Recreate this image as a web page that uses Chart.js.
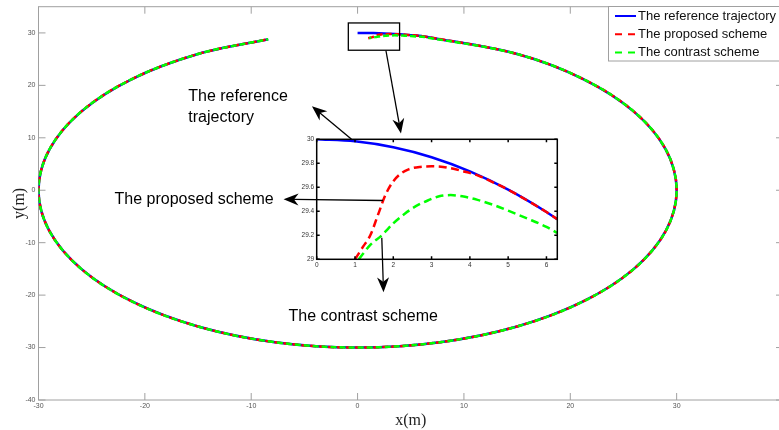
<!DOCTYPE html>
<html>
<head>
<meta charset="utf-8">
<script src="https://cdn.jsdelivr.net/npm/chart.js@4.4.0/dist/chart.umd.min.js"></script>
<style>
  html, body { margin: 0; padding: 0; background: #fff; overflow: hidden; width: 779px; height: 430px; }
  #wrap { position: relative; width: 779px; height: 430px; }
  #mainChart, #zoomChart { position: absolute; left: 0; top: 0; }
</style>
</head>
<body>
<div id="wrap">
  <canvas id="mainChart" width="790" height="430"></canvas>
  <canvas id="zoomChart" width="779" height="430"></canvas>
</div>
<script>
// start of the run
const refHeadX = [0, 1, 2, 3, 4, 5, 6, 6.28];
const refHeadY = [30, 29.983, 29.933, 29.85, 29.732, 29.58, 29.394, 29.335];

const propHeadX = [1.0, 1.2, 1.4, 1.6, 1.8, 2.0, 2.2, 2.4, 2.7, 3.0, 3.3, 3.6, 3.9, 4.2, 4.5, 5.0, 5.5, 6.0, 6.28];
const propHeadY = [29.0, 29.1, 29.2, 29.37, 29.54, 29.65, 29.715, 29.75, 29.77, 29.775, 29.77, 29.752, 29.727, 29.70, 29.657, 29.58, 29.49, 29.394, 29.335];

const contHeadX = [1.1, 1.4, 1.7, 2.0, 2.3, 2.6, 2.9, 3.2, 3.5, 3.8, 4.2, 4.6, 5.0, 5.5, 6.0, 6.28];
const contHeadY = [29.0, 29.12, 29.2, 29.3, 29.38, 29.445, 29.49, 29.525, 29.535, 29.525, 29.495, 29.455, 29.405, 29.34, 29.27, 29.22];

// rest of the loop, where all three curves coincide
const trackX = [15, 21.21, 25.98, 28.98, 30, 28.98, 25.98, 21.21, 15, 7.76, 0, -7.76, -15, -21.21, -25.98, -28.98, -30, -28.98, -25.98, -21.21, -15, -8.4];
const trackY = [25.98, 21.21, 15, 7.76, 0, -7.76, -15, -21.21, -25.98, -28.98, -30, -28.98, -25.98, -21.21, -15, -7.76, 0, 7.76, 15, 21.21, 25.98, 28.8];

const mainXTicks = [-30, -20, -10, 0, 10, 20, 30, 40];
const mainYTicks = [-40, -30, -20, -10, 0, 10, 20, 30];
const zoomXTicks = [0, 1, 2, 3, 4, 5, 6];
const zoomYTicks = [29, 29.2, 29.4, 29.6, 29.8, 30];

const seriesNames = ['The reference trajectory', 'The proposed scheme', 'The contrast scheme'];

function pts(xs, ys) { return xs.map((x, i) => ({ x: x, y: ys[i] })); }

// annotations (main-axes coordinates unless marked 'zoom')
const notes = [
  { text: 'The reference', x: -15.92, y: 17.94 },
  { text: 'trajectory', x: -15.92, y: 13.93 },
  { text: 'The proposed scheme', x: -22.85, y: -1.81 },
  { text: 'The contrast scheme', x: -6.49, y: -24.05 }
];
const arrows = [
  { from: ['zoom', 0.91, 30.0], to: ['main', -4.29, 16.03] },
  { from: ['main', 2.67, 26.6], to: ['main', 4.08, 10.82] },
  { from: ['zoom', 1.73, 29.49], to: ['main', -6.96, -1.72] },
  { from: ['zoom', 1.70, 29.18], to: ['main', 2.44, -19.47] }
];
const zoomBox = { x0: -0.87, x1: 3.95, y0: 26.7, y1: 31.9 };

function fmt(v) { return String(Math.round(v * 10) / 10); }

function drawFrame(chart, o) {
  const { ctx, chartArea: a, scales: { x, y } } = chart;
  ctx.save();
  ctx.strokeStyle = o.color;
  ctx.lineWidth = o.width;
  ctx.strokeRect(a.left, a.top, a.right - a.left, a.bottom - a.top);
  ctx.beginPath();
  o.xTicks.forEach(v => {
    const px = x.getPixelForValue(v);
    ctx.moveTo(px, a.bottom); ctx.lineTo(px, a.bottom - o.tick);
    ctx.moveTo(px, a.top); ctx.lineTo(px, a.top + o.tick);
  });
  o.yTicks.forEach(v => {
    const py = y.getPixelForValue(v);
    ctx.moveTo(a.left, py); ctx.lineTo(a.left + o.tick, py);
    ctx.moveTo(a.right, py); ctx.lineTo(a.right - o.tick, py);
  });
  ctx.stroke();
  ctx.fillStyle = o.labelColor;
  ctx.font = o.font;
  ctx.textAlign = 'center';
  ctx.textBaseline = 'top';
  o.xTicks.forEach(v => ctx.fillText(fmt(v), x.getPixelForValue(v), a.bottom + o.pad));
  ctx.textAlign = 'right';
  ctx.textBaseline = 'middle';
  o.yTicks.forEach(v => ctx.fillText(fmt(v), a.left - o.pad, y.getPixelForValue(v)));
  ctx.restore();
}

function arrow(ctx, x1, y1, x2, y2) {
  const ang = Math.atan2(y2 - y1, x2 - x1);
  const c = Math.cos(ang), s = Math.sin(ang);
  const L = 15, W = 6, N = 10.5;
  const bx = x2 - c * N, by = y2 - s * N;
  ctx.beginPath();
  ctx.moveTo(x1, y1);
  ctx.lineTo(bx, by);
  ctx.stroke();
  ctx.beginPath();
  ctx.moveTo(x2, y2);
  ctx.lineTo(x2 - c * L - s * W, y2 - s * L + c * W);
  ctx.lineTo(bx, by);
  ctx.lineTo(x2 - c * L + s * W, y2 - s * L - c * W);
  ctx.closePath();
  ctx.fill();
}

const flatScale = (min, max, step) => ({
  type: 'linear', min: min, max: max,
  ticks: { display: false, stepSize: step, includeBounds: false },
  grid: { display: false, drawTicks: false },
  border: { display: false }
});

const mainDecor = {
  id: 'mainDecor',
  beforeDatasetsDraw(chart) {
    drawFrame(chart, {
      color: '#a0a0a0', width: 1, tick: 7, pad: 3,
      labelColor: '#555', font: '7px "Liberation Sans", Arial, sans-serif',
      xTicks: mainXTicks, yTicks: mainYTicks
    });
  },
  afterDatasetsDraw(chart) {
    const { ctx, chartArea: a, scales: { x, y } } = chart;
    ctx.save();
    // zoom marker box
    ctx.strokeStyle = '#000';
    ctx.lineWidth = 1.3;
    const bx0 = x.getPixelForValue(zoomBox.x0), bx1 = x.getPixelForValue(zoomBox.x1);
    const by0 = y.getPixelForValue(zoomBox.y1), by1 = y.getPixelForValue(zoomBox.y0);
    ctx.strokeRect(bx0, by0, bx1 - bx0, by1 - by0);

    // legend
    ctx.fillStyle = '#fff';
    ctx.fillRect(608.5, 6.5, 185, 54.5);
    ctx.strokeStyle = '#a0a0a0';
    ctx.lineWidth = 1;
    ctx.strokeRect(608.5, 6.5, 185, 54.5);
    ctx.font = '13px "Liberation Sans", Arial, sans-serif';
    ctx.textBaseline = 'middle';
    ctx.textAlign = 'left';
    chart.data.datasets.forEach((ds, i) => {
      const ly = 16 + i * 18.2;
      ctx.strokeStyle = ds.borderColor;
      ctx.lineWidth = 2;
      ctx.setLineDash(i === 0 ? [] : [7, 6]);
      ctx.beginPath();
      ctx.moveTo(615, ly);
      ctx.lineTo(636, ly);
      ctx.stroke();
      ctx.setLineDash([]);
      ctx.fillStyle = '#111';
      ctx.fillText(ds.label, 638, ly + 0.5);
    });

    // axis titles
    ctx.fillStyle = '#222';
    ctx.font = '16px "Liberation Serif", "Times New Roman", serif';
    ctx.textAlign = 'center';
    ctx.textBaseline = 'middle';
    ctx.fillText('x(m)', (a.left + a.right) / 2, a.bottom + 20.7);
    ctx.translate(20, (a.top + a.bottom) / 2);
    ctx.rotate(-Math.PI / 2);
    ctx.fillText('y(m)', 0, 0);
    ctx.restore();
  }
};

const mainChart = new Chart(document.getElementById('mainChart'), {
  type: 'line',
  data: {
    datasets: [
      {
        label: seriesNames[0],
        data: pts(refHeadX.concat(trackX), refHeadY.concat(trackY)),
        borderColor: '#0000ff', borderWidth: 2.5, order: 3
      },
      {
        label: seriesNames[1],
        data: pts(propHeadX.concat(trackX), propHeadY.concat(trackY)),
        borderColor: '#ff0000', borderWidth: 2.5, borderDash: [6, 3], borderDashOffset: 0, order: 2
      },
      {
        label: seriesNames[2],
        data: pts(contHeadX.concat(trackX), contHeadY.concat(trackY)),
        borderColor: '#00ff00', borderWidth: 2.5, borderDash: [6, 3], borderDashOffset: 4, order: 1
      }
    ]
  },
  options: {
    responsive: false,
    animation: false,
    events: [],
    elements: { point: { radius: 0, hoverRadius: 0 }, line: { tension: 0.34, fill: false } },
    layout: { autoPadding: false, padding: { left: 38.5, top: 6.7, right: 7, bottom: 30 } },
    scales: {
      x: Object.assign(flatScale(-30, 40, 10), { afterFit: s => { s.height = 0; } }),
      y: Object.assign(flatScale(-40, 35, 10), { afterFit: s => { s.width = 0; } })
    },
    plugins: { legend: { display: false }, tooltip: { enabled: false } }
  },
  plugins: [mainDecor]
});

function toPx(ref, zoom) {
  const c = ref[0] === 'zoom' ? zoom : mainChart;
  return [c.scales.x.getPixelForValue(ref[1]), c.scales.y.getPixelForValue(ref[2])];
}

const zoomDecor = {
  id: 'zoomDecor',
  beforeDatasetsDraw(chart) {
    const { ctx, chartArea: a } = chart;
    ctx.save();
    ctx.fillStyle = '#fff';
    ctx.fillRect(a.left, a.top, a.right - a.left, a.bottom - a.top);
    ctx.restore();
  },
  afterDatasetsDraw(chart) {
    drawFrame(chart, {
      color: '#000', width: 1.5, tick: 3, pad: 2.5,
      labelColor: '#333', font: '6.5px "Liberation Sans", Arial, sans-serif',
      xTicks: zoomXTicks, yTicks: zoomYTicks
    });
  },
  afterDraw(chart) {
    const ctx = chart.ctx;
    ctx.save();
    ctx.strokeStyle = '#000';
    ctx.fillStyle = '#000';
    ctx.lineWidth = 1.3;
    arrows.forEach(ar => {
      const p = toPx(ar.from, chart), q = toPx(ar.to, chart);
      arrow(ctx, p[0], p[1], q[0], q[1]);
    });
    ctx.font = '16px "Liberation Sans", Arial, sans-serif';
    ctx.textAlign = 'left';
    ctx.textBaseline = 'middle';
    ctx.fillStyle = '#000';
    notes.forEach(n => {
      ctx.fillText(n.text, mainChart.scales.x.getPixelForValue(n.x), mainChart.scales.y.getPixelForValue(n.y));
    });
    ctx.restore();
  }
};

new Chart(document.getElementById('zoomChart'), {
  type: 'line',
  data: {
    datasets: [
      { label: seriesNames[0], data: pts(refHeadX, refHeadY), borderColor: '#0000ff', borderWidth: 2.5, order: 3 },
      { label: seriesNames[1], data: pts(propHeadX, propHeadY), borderColor: '#ff0000', borderWidth: 2.5, borderDash: [8, 4.5], order: 2 },
      { label: seriesNames[2], data: pts(contHeadX, contHeadY), borderColor: '#00ff00', borderWidth: 2.5, borderDash: [8, 4.5], order: 1 }
    ]
  },
  options: {
    responsive: false,
    animation: false,
    events: [],
    elements: { point: { radius: 0, hoverRadius: 0 }, line: { cubicInterpolationMode: 'monotone', fill: false } },
    layout: { autoPadding: false, padding: { left: 316.7, top: 139.3, right: 779 - 557.3, bottom: 430 - 259.3 } },
    scales: {
      x: Object.assign(flatScale(0, 6.2832, 1), { afterFit: s => { s.height = 0; } }),
      y: Object.assign(flatScale(29, 30, 0.2), { afterFit: s => { s.width = 0; } })
    },
    plugins: { legend: { display: false }, tooltip: { enabled: false } }
  },
  plugins: [zoomDecor]
});
</script>
</body>
</html>
